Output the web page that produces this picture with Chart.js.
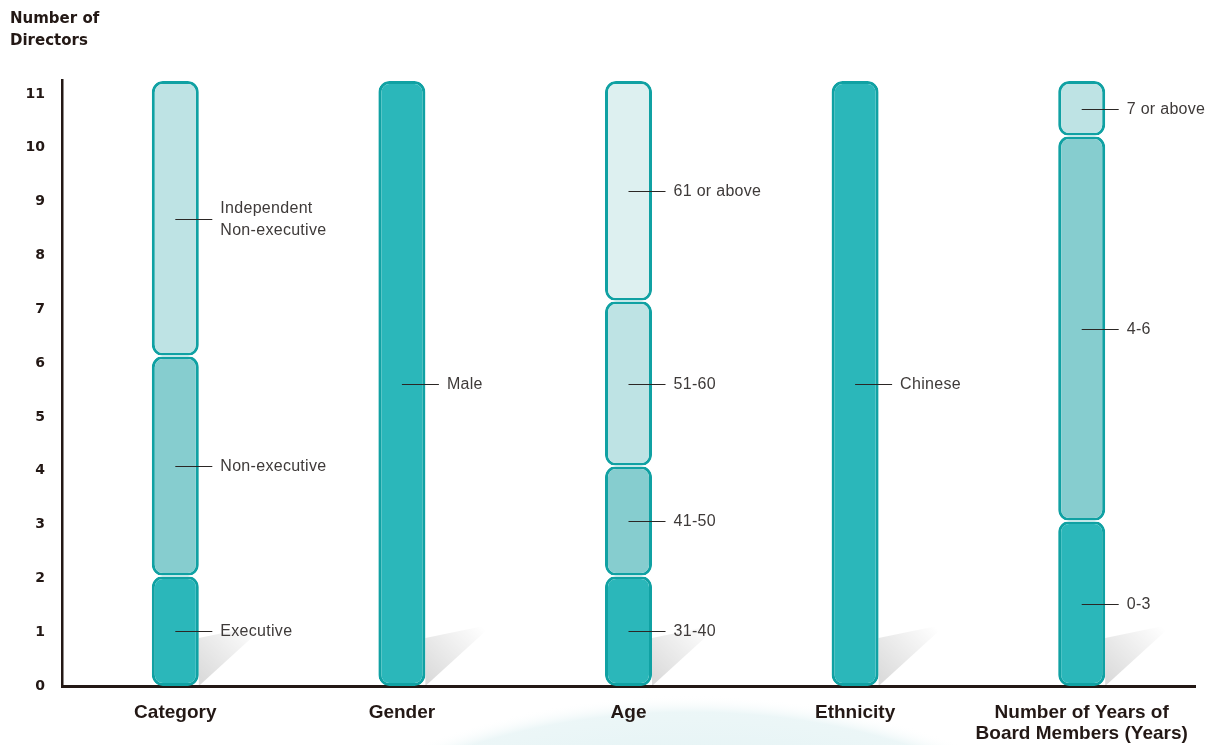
<!DOCTYPE html>
<html>
<head>
<meta charset="utf-8">
<script src="https://cdn.jsdelivr.net/npm/chart.js@4/dist/chart.umd.min.js"></script>
<style>
  body { margin: 0; background: #fff; }
</style>
</head>
<body>
<canvas id="chart" width="1210" height="745"></canvas>
<script>
const categories = ['Category', 'Gender', 'Age', 'Ethnicity', ['Number of Years of', 'Board Members (Years)']];

// stacked segments, bottom to top
const layer1Values = [2, 11, 2, 11, 3];
const layer2Values = [4, null, 2, null, 7];
const layer3Values = [5, null, 3, null, 1];
const layer4Values = [null, null, 4, null, null];

const layer1Labels = [['Executive'], ['Male'], ['31-40'], ['Chinese'], ['0-3']];
const layer2Labels = [['Non-executive'], null, ['41-50'], null, ['4-6']];
const layer3Labels = [['Independent', 'Non-executive'], null, ['51-60'], null, ['7 or above']];
const layer4Labels = [null, null, ['61 or above'], null, null];

const yTickValues = [0, 1, 2, 3, 4, 5, 6, 7, 8, 9, 10, 11];

const ink = '#231815';
const labelInk = '#3e3a39';
const edge = '#10a1a3';
const fills = ['#2bb7ba', '#86cdcf', '#bee3e4', '#ddf0f0'];

Chart.defaults.font.family = '"Liberation Sans", Arial, sans-serif';

const layers = [
    { values: layer1Values, labels: layer1Labels },
    { values: layer2Values, labels: layer2Labels },
    { values: layer3Values, labels: layer3Labels },
    { values: layer4Values, labels: layer4Labels },
];

// thin white split where two segments meet
const segGaps = {
    id: 'segGaps',
    afterDatasetsDraw(chart) {
        const ctx = chart.ctx;
        ctx.save();
        ctx.strokeStyle = '#fff';
        ctx.lineWidth = 1.5;
        layers.forEach((layer, i) => {
            if (i === 0) return;
            chart.getDatasetMeta(i).data.forEach((bar, j) => {
                if (layer.values[j] == null) return;
                ctx.beginPath();
                ctx.moveTo(bar.x - bar.width / 2 - 1, bar.base);
                ctx.lineTo(bar.x + bar.width / 2 + 1, bar.base);
                ctx.stroke();
            });
        });
        ctx.restore();
    }
};

const segLabels = {
    id: 'segLabels',
    afterDatasetsDraw(chart) {
        const ctx = chart.ctx;
        ctx.save();
        ctx.strokeStyle = '#2b2725';
        ctx.lineWidth = 1.2;
        ctx.fillStyle = labelInk;
        ctx.font = '16px "Liberation Sans", Arial, sans-serif';
        ctx.letterSpacing = '0.3px';
        ctx.textBaseline = 'middle';
        layers.forEach((layer, i) => {
            chart.getDatasetMeta(i).data.forEach((bar, j) => {
                const lines = layer.labels[j];
                if (!lines || layer.values[j] == null) return;
                const cy = Math.round((bar.y + bar.base) / 2) + 0.5;
                const x1 = bar.x + 37;
                ctx.beginPath();
                ctx.moveTo(bar.x, cy);
                ctx.lineTo(x1, cy);
                ctx.stroke();
                const lh = 22;
                lines.forEach((t, k) => {
                    ctx.fillText(t, x1 + 8, cy + (k - (lines.length - 1) / 2) * lh);
                });
            });
        });
        ctx.restore();
    }
};

const barShadows = {
    id: 'barShadows',
    beforeDatasetsDraw(chart) {
        const ctx = chart.ctx;
        const area = chart.chartArea;
        ctx.save();
        chart.getDatasetMeta(0).data.forEach(bar => {
            const r = bar.x + bar.width / 2;
            const b = area.bottom;
            const g = ctx.createLinearGradient(r, b - 10, r + 55, b - 62);
            g.addColorStop(0, 'rgba(0,0,0,0.14)');
            g.addColorStop(1, 'rgba(0,0,0,0)');
            ctx.fillStyle = g;
            ctx.beginPath();
            ctx.moveTo(r, b);
            ctx.lineTo(r, b - 48);
            ctx.lineTo(r + 68, b - 62);
            ctx.closePath();
            ctx.fill();
        });
        ctx.restore();
    }
};

const globe = {
    id: 'globe',
    beforeDraw(chart) {
        const ctx = chart.ctx;
        ctx.save();
        ctx.fillStyle = '#fff';
        ctx.fillRect(0, 0, chart.width, chart.height);
        ctx.translate(690, 1010);
        ctx.scale(1.6, 1);
        const g = ctx.createRadialGradient(0, 0, 200, 0, 0, 315);
        g.addColorStop(0, 'rgba(175,220,224,0.4)');
        g.addColorStop(0.85, 'rgba(200,230,233,0.35)');
        g.addColorStop(1, 'rgba(255,255,255,0)');
        ctx.fillStyle = g;
        ctx.beginPath();
        ctx.arc(0, 0, 315, 0, Math.PI * 2);
        ctx.fill();
        ctx.restore();
    }
};

const data = {
    labels: categories,
    datasets: layers.map((layer, i) => ({
        data: layer.values,
        backgroundColor: fills[i],
        borderColor: edge,
        borderWidth: 3,
        borderRadius: { topLeft: 11, topRight: 11, bottomLeft: 11, bottomRight: 11 },
        borderSkipped: false,
        inflateAmount: 0,
        barThickness: 47,
        yAxisID: 'y',
    }))
};

const config = {
    type: 'bar',
    data: data,
    options: {
        responsive: false,
        animation: false,
        layout: {
            padding: { left: 10, right: 15, top: 0, bottom: 0 }
        },
        scales: {
            x: {
                stacked: true,
                grid: { display: false, drawTicks: false },
                border: { color: ink, width: 3 },
                ticks: {
                    color: ink,
                    padding: 16,
                    font: { size: 19, weight: 'bold', lineHeight: 1.1 }
                },
                afterFit: (s) => { s.height = 59; }
            },
            y: {
                stacked: true,
                display: false,
                min: 0,
                max: 11.02,
            },
            yTicks: {
                position: 'left',
                min: 0,
                max: 11.26,
                grid: { display: false, drawTicks: false },
                border: { color: ink, width: 2.5 },
                ticks: {
                    color: ink,
                    padding: 17,
                    includeBounds: false,
                    font: { family: '"DejaVu Sans", sans-serif', size: 14, weight: 'bold' }
                },
                afterBuildTicks: (s) => { s.ticks = yTickValues.map(v => ({ value: v })); },
                afterFit: (s) => { s.width = 52; }
            }
        },
        plugins: {
            legend: { display: false },
            tooltip: { enabled: false },
            title: {
                display: true,
                align: 'start',
                text: ['Number of', 'Directors'],
                color: ink,
                font: { family: '"DejaVu Sans", sans-serif', size: 15, weight: 'bold', lineHeight: 22 / 15 },
                padding: { top: 8, bottom: 28 }
            }
        }
    },
    plugins: [globe, barShadows, segGaps, segLabels]
};

const ctx = document.getElementById('chart');
const boardChart = new Chart(ctx, config);
</script>
</body>
</html>
